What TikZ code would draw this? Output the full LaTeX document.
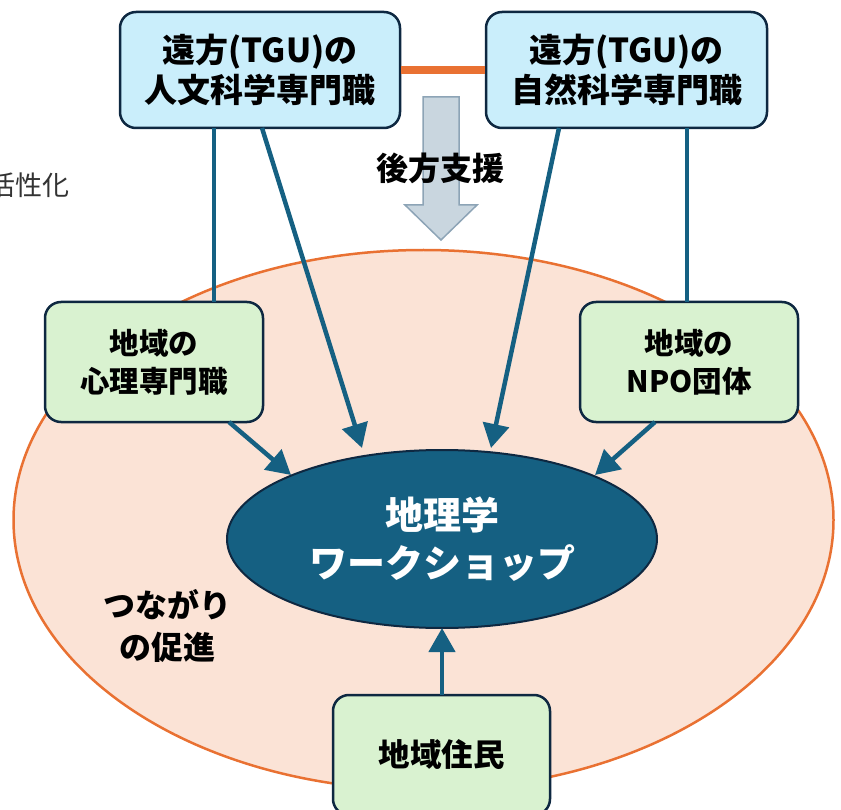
\documentclass[tikz,border=0pt]{standalone}
\usepackage{fontspec}
\setmainfont{Noto Sans CJK JP}
\usetikzlibrary{arrows.meta,shapes.geometric}
\definecolor{navy}{HTML}{0E2841}
\definecolor{lblue}{HTML}{CAEEFB}
\definecolor{lgreen}{HTML}{D9F2D0}
\definecolor{orng}{HTML}{E97132}
\definecolor{peach}{HTML}{FBE3D6}
\definecolor{accblue}{HTML}{156082}
\definecolor{grayfill}{HTML}{C3D1DC}
\definecolor{grayline}{HTML}{8DA4B6}
\tikzset{
  topbox/.style={draw=navy, line width=2.5pt, fill=lblue, rounded corners=16pt,
    minimum width=280pt, minimum height=116pt, inner sep=0pt, align=center,
    font=\fontsize{33}{40}\selectfont\bfseries},
  greenbox/.style={draw=navy, line width=2.5pt, fill=lgreen, rounded corners=16pt,
    minimum width=218pt, minimum height=120pt, inner sep=0pt, align=center,
    font=\fontsize{29.5}{38}\selectfont\bfseries},
  conn/.style={draw=accblue, line width=4.5pt},
  arr/.style={conn, -{Triangle[length=24pt,width=26pt]}},
  plain/.style={inner sep=0pt, align=center}
}
\begin{document}
\begin{tikzpicture}[x=1pt,y=-1pt]
\useasboundingbox (0,0) rectangle (841,810);
\clip (0,0) rectangle (841,810);
% big ellipse
\node[ellipse, draw=orng, line width=2.5pt, fill=peach, minimum width=820pt, minimum height=540pt, inner sep=0pt] (big) at (423.5,520) {};
% side text (cut off at the left edge, as in the reference)
\node[plain, anchor=west, text=black!80, font=\fontsize{27}{30}\selectfont] (act) at (-12,185) {活性化};
% top boxes
\node[topbox] (tl) at (260,70) {遠方(TGU)の\\人文科学専門職};
\node[topbox, minimum width=281pt] (tr) at (626.5,70) {遠方(TGU)の\\自然科学専門職};
\draw[orng, line width=8pt] (tl.east) -- (tr.west);
% gray block arrow
\draw[fill=grayfill, draw=grayline, line width=1.5pt, fill opacity=0.9]
  (423,97) -- (459,97) -- (459,205) -- (477,205) -- (441,240) -- (405,205) -- (423,205) -- cycle;
\node[plain, font=\fontsize{32}{34}\selectfont\bfseries] (koho) at (440,168) {後方支援};
% green boxes
\node[greenbox] (lg) at (154,362) {地域の\\心理専門職};
\node[greenbox] (rg) at (689,362) {地域の\\NPO団体};
\node[greenbox, minimum width=217pt] (bg) at (441.5,755) {\fontsize{31.5}{36}\selectfont 地域住民};
% center ellipse
\node[ellipse, draw=navy, line width=2pt, fill=accblue, minimum width=430pt, minimum height=178pt, inner sep=0pt] (ce) at (442,539) {};
\node[plain, text=white, font=\fontsize{38}{48}\selectfont\bfseries] (cet) at (442,539) {地理学\\ワークショップ};
% label
\node[plain, font=\fontsize{32}{42}\selectfont\bfseries] (tsuna) at (167,626) {つながり\\の促進};
% connector points
\coordinate (tlv) at (214,128);
\coordinate (lgv) at (214,302);
\coordinate (trv) at (687,128);
\coordinate (rgv) at (687,302);
\coordinate (tld) at (262,128);
\coordinate (tldt) at (362,448);
\coordinate (trd) at (559,128);
\coordinate (trdt) at (491,448);
\coordinate (lgd) at (229,422);
\coordinate (lgdt) at (291,475);
\coordinate (rgd) at (655,422);
\coordinate (rgdt) at (595,475);
\coordinate (bgu) at (442,695);
\coordinate (bgut) at (442,628);
\draw[conn] (tlv) -- (lgv);
\draw[conn] (trv) -- (rgv);
\draw[arr] (tld) -- (tldt);
\draw[arr] (trd) -- (trdt);
\draw[arr] (lgd) -- (lgdt);
\draw[arr] (rgd) -- (rgdt);
\draw[arr] (bgu) -- (bgut);
\end{tikzpicture}
\end{document}
